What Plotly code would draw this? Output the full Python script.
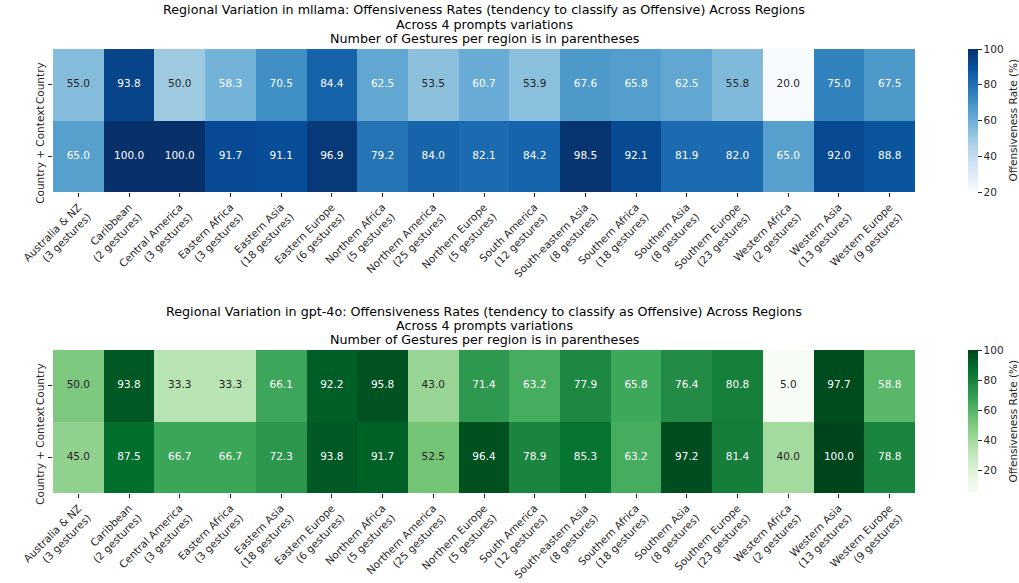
import plotly.graph_objects as go

regions = ["Australia & NZ", "Caribbean", "Central America", "Eastern Africa", "Eastern Asia",
           "Eastern Europe", "Northern Africa", "Northern America", "Northern Europe",
           "South America", "South-eastern Asia", "Southern Africa", "Southern Asia",
           "Southern Europe", "Western Africa", "Western Asia", "Western Europe"]
gesture_counts = [3, 2, 3, 3, 18, 6, 5, 25, 5, 12, 8, 18, 8, 23, 2, 13, 9]
conditions = ["Country", "Country + Context"]

mllama_country = [55.0, 93.8, 50.0, 58.3, 70.5, 84.4, 62.5, 53.5, 60.7, 53.9, 67.6, 65.8, 62.5, 55.8, 20.0, 75.0, 67.5]
mllama_context = [65.0, 100.0, 100.0, 91.7, 91.1, 96.9, 79.2, 84.0, 82.1, 84.2, 98.5, 92.1, 81.9, 82.0, 65.0, 92.0, 88.8]
gpt4o_country = [50.0, 93.8, 33.3, 33.3, 66.1, 92.2, 95.8, 43.0, 71.4, 63.2, 77.9, 65.8, 76.4, 80.8, 5.0, 97.7, 58.8]
gpt4o_context = [45.0, 87.5, 66.7, 66.7, 72.3, 93.8, 91.7, 52.5, 96.4, 78.9, 85.3, 63.2, 97.2, 81.4, 40.0, 100.0, 78.8]

colorbar_ticks = [20, 40, 60, 80, 100]
colorbar_title = "Offensiveness Rate (%)"

BLUES = ["#f7fbff", "#deebf7", "#c6dbef", "#9ecae1", "#6baed6", "#4292c6", "#2171b5", "#08519c", "#08306b"]
GREENS = ["#f7fcf5", "#e5f5e0", "#c7e9c0", "#a1d99b", "#74c476", "#41ab5d", "#238b45", "#006d2c", "#00441b"]

W, H = 1019, 583
FONT = "DejaVu Sans"
DARK = "rgb(38,38,38)"


def hex2rgb(h):
    h = h.lstrip("#")
    return [int(h[i:i + 2], 16) / 255 for i in (0, 2, 4)]


def cmap(colors, t):
    t = min(max(t, 0), 1)
    n = len(colors) - 1
    i = min(int(t * n), n - 1)
    f = t * n - i
    a, b = hex2rgb(colors[i]), hex2rgb(colors[i + 1])
    return [a[k] + (b[k] - a[k]) * f for k in range(3)]


def lum(rgb):
    c = [v / 12.92 if v <= 0.03928 else ((v + 0.055) / 1.055) ** 2.4 for v in rgb]
    return 0.2126 * c[0] + 0.7152 * c[1] + 0.0722 * c[2]


xlabels = [f"{r}<br>({n} gestures)" for r, n in zip(regions, gesture_counts)]

fig = go.Figure()

panels = [
    ("mllama", [mllama_country, mllama_context], BLUES, (49, 192), "x", "y"),
    ("gpt-4o", [gpt4o_country, gpt4o_context], GREENS, (350, 493), "x2", "y2"),
]

for idx, (model, z, colors, (top, bot), xa, ya) in enumerate(panels):
    zmin = min(min(r) for r in z)
    zmax = max(max(r) for r in z)
    scale = [[i / (len(colors) - 1), c] for i, c in enumerate(colors)]
    y0 = (H - bot) / H
    y1 = (H - top) / H
    fig.add_trace(go.Heatmap(
        z=z, x=xlabels, y=conditions, colorscale=scale, zmin=zmin, zmax=zmax,
        xaxis=xa, yaxis=ya, hoverinfo="skip",
        colorbar=dict(
            x=968 / W, xanchor="left", xpad=0, ypad=0, thickness=10, thicknessmode="pixels",
            y=y0, yanchor="bottom", len=y1 - y0, lenmode="fraction",
            outlinewidth=0, ticks="outside", ticklen=4, tickcolor=DARK,
            tickvals=colorbar_ticks,
            tickfont=dict(family=FONT, size=10.5, color=DARK),
        ),
    ))
    fig.add_annotation(
        text=colorbar_title, textangle=-90, xref="paper", yref="paper",
        x=1012 / W, y=(y0 + y1) / 2, xanchor="center", yanchor="middle", showarrow=False,
        font=dict(family=FONT, size=10.5, color=DARK),
    )
    xs, ys, txt, tcol = [], [], [], []
    for ri, row in enumerate(z):
        for ci, v in enumerate(row):
            xs.append(xlabels[ci])
            ys.append(conditions[ri])
            txt.append(f"{v:.1f}")
            c = cmap(colors, (v - zmin) / (zmax - zmin))
            tcol.append(DARK if lum(c) > 0.408 else "white")
    fig.add_trace(go.Scatter(
        x=xs, y=ys, mode="text", text=txt, xaxis=xa, yaxis=ya,
        textfont=dict(family=FONT, size=10.5, color=tcol), showlegend=False, hoverinfo="skip",
    ))
    axsuffix = "" if idx == 0 else "2"
    fig.update_layout(**{
        f"xaxis{axsuffix}": dict(
            domain=[53 / W, 915 / W], anchor=ya, range=[-0.5, len(regions) - 0.5],
            tickangle=-45, ticks="outside", ticklen=4,
            tickcolor=DARK, showgrid=False, zeroline=False, showline=False, automargin=False,
            tickfont=dict(family=FONT, size=10.5, color=DARK),
        ),
        f"yaxis{axsuffix}": dict(
            domain=[y0, y1], anchor=xa, range=[len(conditions) - 0.5, -0.5],
            tickangle=-90, ticks="outside",
            ticklen=4, tickcolor=DARK, showgrid=False, zeroline=False, showline=False,
            automargin=False,
            tickfont=dict(family=FONT, size=10.5, color=DARK),
        ),
    })
    title_lines = [
        f"Regional Variation in {model}: Offensiveness Rates (tendency to classify as Offensive) Across Regions",
        "Across 4 prompts variations",
        "Number of Gestures per region is in parentheses",
    ]
    for li, line in enumerate(title_lines):
        fig.add_annotation(
            text=line, xref="paper", yref="paper",
            x=484 / W, y=(H - (top - 39 + 14 * li)) / H, xanchor="center", yanchor="middle",
            showarrow=False, align="center",
            font=dict(family=FONT, size=12.7, color="black"),
        )

fig.update_layout(
    width=W, height=H, margin=dict(l=0, r=0, t=0, b=0, autoexpand=False),
    paper_bgcolor="white", plot_bgcolor="white", showlegend=False,
)

fig.write_html(
    "out.html",
    config={"displayModeBar": False},
    post_script="document.body.style.margin='0';document.body.style.overflow='hidden';",
)
